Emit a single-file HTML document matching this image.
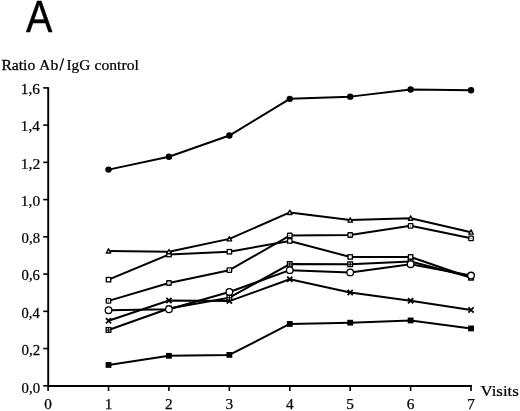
<!DOCTYPE html>
<html><head><meta charset="utf-8"><style>
html,body{margin:0;padding:0;background:#fff;}
body{width:520px;height:411px;overflow:hidden;position:relative;}
svg{position:absolute;left:0;top:0;filter:grayscale(1);}
.n{font-family:"Liberation Serif",serif;font-size:15.2px;fill:#000;stroke:#000;stroke-width:0.25px;}
.ser{font-family:"Liberation Serif",serif;fill:#000;stroke:#000;stroke-width:0.25px;}
.sans{font-family:"Liberation Sans",sans-serif;fill:#000;stroke:#000;stroke-width:0.4px;}
</style></head><body>
<svg width="520" height="411" viewBox="0 0 520 411">
<text class="sans" style="font-size:44.6px" transform="translate(26.10 31.60) scale(0.8867 1)">A</text>
<text class="ser" style="font-size:14.9px" transform="translate(1.43 69.80) scale(1.0483 1)">Ratio</text>
<text class="ser" style="font-size:14.9px" transform="translate(39.04 69.80) scale(1.0567 1)">Ab</text>
<path d="M63.6 58.4L59.8 70.6" stroke="#000" stroke-width="1.25"/>
<text class="ser" style="font-size:14.9px" transform="translate(66.46 69.80) scale(1.0270 1)">IgG</text>
<text class="ser" style="font-size:14.9px" transform="translate(94.58 69.80) scale(1.0472 1)">control</text>
<text class="ser" style="font-size:14.8px" transform="translate(480.53 396.20) scale(1.1393 1)">Visits</text>
<path d="M48.2 87.2V386.95M47.25 386.0H471.94" stroke="#000" stroke-width="1.9" fill="none"/>
<path d="M43.2 385.80H48.2" stroke="#000" stroke-width="1.6"/>
<text class="n" style="font-size:15.3px" transform="translate(21.61 392.60) scale(0.9664 1)">0,0</text>
<path d="M43.2 348.56H48.2" stroke="#000" stroke-width="1.6"/>
<text class="n" style="font-size:15.3px" transform="translate(21.60 354.86) scale(0.9790 1)">0,2</text>
<path d="M43.2 311.32H48.2" stroke="#000" stroke-width="1.6"/>
<text class="n" style="font-size:15.3px" transform="translate(21.62 317.62) scale(0.9462 1)">0,4</text>
<path d="M43.2 274.08H48.2" stroke="#000" stroke-width="1.6"/>
<text class="n" style="font-size:15.3px" transform="translate(21.61 280.38) scale(0.9582 1)">0,6</text>
<path d="M43.2 236.84H48.2" stroke="#000" stroke-width="1.6"/>
<text class="n" style="font-size:15.3px" transform="translate(21.61 243.14) scale(0.9664 1)">0,8</text>
<path d="M43.2 199.60H48.2" stroke="#000" stroke-width="1.6"/>
<text class="n" style="font-size:15.3px" transform="translate(20.81 205.90) scale(1.0096 1)">1,0</text>
<path d="M43.2 162.36H48.2" stroke="#000" stroke-width="1.6"/>
<text class="n" style="font-size:15.3px" transform="translate(20.79 168.66) scale(1.0233 1)">1,2</text>
<path d="M43.2 125.12H48.2" stroke="#000" stroke-width="1.6"/>
<text class="n" style="font-size:15.3px" transform="translate(20.84 131.42) scale(0.9875 1)">1,4</text>
<path d="M43.2 87.88H48.2" stroke="#000" stroke-width="1.6"/>
<text class="n" style="font-size:15.3px" transform="translate(20.82 94.18) scale(1.0006 1)">1,6</text>
<path d="M48.10 386V391" stroke="#000" stroke-width="1.6"/>
<text x="48.10" y="408.7" text-anchor="middle" class="n" style="font-size:15.3px">0</text>
<path d="M108.52 386V391" stroke="#000" stroke-width="1.6"/>
<text x="108.52" y="408.7" text-anchor="middle" class="n" style="font-size:15.3px">1</text>
<path d="M168.94 386V391" stroke="#000" stroke-width="1.6"/>
<text x="168.94" y="408.7" text-anchor="middle" class="n" style="font-size:15.3px">2</text>
<path d="M229.36 386V391" stroke="#000" stroke-width="1.6"/>
<text x="229.36" y="408.7" text-anchor="middle" class="n" style="font-size:15.3px">3</text>
<path d="M289.78 386V391" stroke="#000" stroke-width="1.6"/>
<text x="289.78" y="408.7" text-anchor="middle" class="n" style="font-size:15.3px">4</text>
<path d="M350.20 386V391" stroke="#000" stroke-width="1.6"/>
<text x="350.20" y="408.7" text-anchor="middle" class="n" style="font-size:15.3px">5</text>
<path d="M410.62 386V391" stroke="#000" stroke-width="1.6"/>
<text x="410.62" y="408.7" text-anchor="middle" class="n" style="font-size:15.3px">6</text>
<path d="M471.04 386V391" stroke="#000" stroke-width="1.6"/>
<text x="471.04" y="408.7" text-anchor="middle" class="n" style="font-size:15.3px">7</text>
<polyline points="108.52,364.95 168.94,355.82 229.36,354.89 289.78,323.98 350.20,322.68 410.62,320.44 471.04,328.45" fill="none" stroke="#000" stroke-width="2.0" stroke-linejoin="round"/>
<polyline points="108.52,320.82 168.94,300.52 229.36,301.08 289.78,279.29 350.20,292.51 410.62,300.71 471.04,310.02" fill="none" stroke="#000" stroke-width="2.0" stroke-linejoin="round"/>
<polyline points="108.52,329.94 168.94,308.53 229.36,297.73 289.78,264.03 350.20,264.21 410.62,261.42 471.04,277.25" fill="none" stroke="#000" stroke-width="2.0" stroke-linejoin="round"/>
<polyline points="108.52,310.20 168.94,309.27 229.36,291.96 289.78,270.17 350.20,272.40 410.62,264.21 471.04,275.57" fill="none" stroke="#000" stroke-width="2.0" stroke-linejoin="round"/>
<polyline points="108.52,279.67 168.94,254.53 229.36,251.74 289.78,240.94 350.20,256.95 410.62,256.95 471.04,277.80" fill="none" stroke="#000" stroke-width="2.0" stroke-linejoin="round"/>
<polyline points="108.52,300.89 168.94,283.02 229.36,270.17 289.78,235.54 350.20,234.98 410.62,225.85 471.04,238.33" fill="none" stroke="#000" stroke-width="2.0" stroke-linejoin="round"/>
<polyline points="108.52,250.99 168.94,251.74 229.36,238.89 289.78,212.45 350.20,220.08 410.62,218.22 471.04,232.19" fill="none" stroke="#000" stroke-width="2.0" stroke-linejoin="round"/>
<polyline points="108.52,169.62 168.94,156.77 229.36,135.55 289.78,98.87 350.20,96.63 410.62,89.56 471.04,90.30" fill="none" stroke="#000" stroke-width="2.0" stroke-linejoin="round"/>
<rect x="105.62" y="362.05" width="5.8" height="5.8" fill="#000"/>
<rect x="166.04" y="352.92" width="5.8" height="5.8" fill="#000"/>
<rect x="226.46" y="351.99" width="5.8" height="5.8" fill="#000"/>
<rect x="286.88" y="321.08" width="5.8" height="5.8" fill="#000"/>
<rect x="347.30" y="319.78" width="5.8" height="5.8" fill="#000"/>
<rect x="407.72" y="317.54" width="5.8" height="5.8" fill="#000"/>
<rect x="468.14" y="325.55" width="5.8" height="5.8" fill="#000"/>
<path d="M105.92 318.22L111.12 323.42M111.12 318.22L105.92 323.42" stroke="#000" stroke-width="1.75"/>
<path d="M166.34 297.92L171.54 303.12M171.54 297.92L166.34 303.12" stroke="#000" stroke-width="1.75"/>
<path d="M226.76 298.48L231.96 303.68M231.96 298.48L226.76 303.68" stroke="#000" stroke-width="1.75"/>
<path d="M287.18 276.69L292.38 281.89M292.38 276.69L287.18 281.89" stroke="#000" stroke-width="1.75"/>
<path d="M347.60 289.91L352.80 295.11M352.80 289.91L347.60 295.11" stroke="#000" stroke-width="1.75"/>
<path d="M408.02 298.11L413.22 303.31M413.22 298.11L408.02 303.31" stroke="#000" stroke-width="1.75"/>
<path d="M468.44 307.42L473.64 312.62M473.64 307.42L468.44 312.62" stroke="#000" stroke-width="1.75"/>
<rect x="106.17" y="327.59" width="4.7" height="4.7" fill="#fff" stroke="#000" stroke-width="1.3"/><path d="M108.52 327.64V332.24M106.22 329.94H110.82" stroke="#000" stroke-width="1.1"/>
<rect x="166.59" y="306.18" width="4.7" height="4.7" fill="#fff" stroke="#000" stroke-width="1.3"/><path d="M168.94 306.23V310.83M166.64 308.53H171.24" stroke="#000" stroke-width="1.1"/>
<rect x="227.01" y="295.38" width="4.7" height="4.7" fill="#fff" stroke="#000" stroke-width="1.3"/><path d="M229.36 295.43V300.03M227.06 297.73H231.66" stroke="#000" stroke-width="1.1"/>
<rect x="287.43" y="261.68" width="4.7" height="4.7" fill="#fff" stroke="#000" stroke-width="1.3"/><path d="M289.78 261.73V266.33M287.48 264.03H292.08" stroke="#000" stroke-width="1.1"/>
<rect x="347.85" y="261.86" width="4.7" height="4.7" fill="#fff" stroke="#000" stroke-width="1.3"/><path d="M350.20 261.91V266.51M347.90 264.21H352.50" stroke="#000" stroke-width="1.1"/>
<rect x="408.27" y="259.07" width="4.7" height="4.7" fill="#fff" stroke="#000" stroke-width="1.3"/><path d="M410.62 259.12V263.72M408.32 261.42H412.92" stroke="#000" stroke-width="1.1"/>
<rect x="468.69" y="274.90" width="4.7" height="4.7" fill="#fff" stroke="#000" stroke-width="1.3"/><path d="M471.04 274.95V279.55M468.74 277.25H473.34" stroke="#000" stroke-width="1.1"/>
<rect x="106.32" y="277.47" width="4.4" height="4.4" fill="#fff" stroke="#000" stroke-width="1.3"/>
<rect x="166.74" y="252.33" width="4.4" height="4.4" fill="#fff" stroke="#000" stroke-width="1.3"/>
<rect x="227.16" y="249.54" width="4.4" height="4.4" fill="#fff" stroke="#000" stroke-width="1.3"/>
<rect x="287.58" y="238.74" width="4.4" height="4.4" fill="#fff" stroke="#000" stroke-width="1.3"/>
<rect x="348.00" y="254.75" width="4.4" height="4.4" fill="#fff" stroke="#000" stroke-width="1.3"/>
<rect x="408.42" y="254.75" width="4.4" height="4.4" fill="#fff" stroke="#000" stroke-width="1.3"/>
<rect x="468.84" y="275.60" width="4.4" height="4.4" fill="#fff" stroke="#000" stroke-width="1.3"/>
<rect x="106.27" y="298.64" width="4.5" height="4.5" rx="0.6" fill="#fff" stroke="#000" stroke-width="1.35"/><circle cx="108.52" cy="300.89" r="0.55" fill="#333"/>
<rect x="166.69" y="280.77" width="4.5" height="4.5" rx="0.6" fill="#fff" stroke="#000" stroke-width="1.35"/><circle cx="168.94" cy="283.02" r="0.55" fill="#333"/>
<rect x="227.11" y="267.92" width="4.5" height="4.5" rx="0.6" fill="#fff" stroke="#000" stroke-width="1.35"/><circle cx="229.36" cy="270.17" r="0.55" fill="#333"/>
<rect x="287.53" y="233.29" width="4.5" height="4.5" rx="0.6" fill="#fff" stroke="#000" stroke-width="1.35"/><circle cx="289.78" cy="235.54" r="0.55" fill="#333"/>
<rect x="347.95" y="232.73" width="4.5" height="4.5" rx="0.6" fill="#fff" stroke="#000" stroke-width="1.35"/><circle cx="350.20" cy="234.98" r="0.55" fill="#333"/>
<rect x="408.37" y="223.60" width="4.5" height="4.5" rx="0.6" fill="#fff" stroke="#000" stroke-width="1.35"/><circle cx="410.62" cy="225.85" r="0.55" fill="#333"/>
<rect x="468.79" y="236.08" width="4.5" height="4.5" rx="0.6" fill="#fff" stroke="#000" stroke-width="1.35"/><circle cx="471.04" cy="238.33" r="0.55" fill="#333"/>
<path d="M108.52 248.69L110.77 252.99H106.27Z" fill="#fff" stroke="#000" stroke-width="1.35" stroke-linejoin="round"/>
<path d="M168.94 249.44L171.19 253.74H166.69Z" fill="#fff" stroke="#000" stroke-width="1.35" stroke-linejoin="round"/>
<path d="M229.36 236.59L231.61 240.89H227.11Z" fill="#fff" stroke="#000" stroke-width="1.35" stroke-linejoin="round"/>
<path d="M289.78 210.15L292.03 214.45H287.53Z" fill="#fff" stroke="#000" stroke-width="1.35" stroke-linejoin="round"/>
<path d="M350.20 217.78L352.45 222.08H347.95Z" fill="#fff" stroke="#000" stroke-width="1.35" stroke-linejoin="round"/>
<path d="M410.62 215.92L412.87 220.22H408.37Z" fill="#fff" stroke="#000" stroke-width="1.35" stroke-linejoin="round"/>
<path d="M471.04 229.89L473.29 234.19H468.79Z" fill="#fff" stroke="#000" stroke-width="1.35" stroke-linejoin="round"/>
<circle cx="108.52" cy="310.20" r="3.3" fill="#fff" stroke="#000" stroke-width="1.3"/>
<circle cx="168.94" cy="309.27" r="3.3" fill="#fff" stroke="#000" stroke-width="1.3"/>
<circle cx="229.36" cy="291.96" r="3.3" fill="#fff" stroke="#000" stroke-width="1.3"/>
<circle cx="289.78" cy="270.17" r="3.3" fill="#fff" stroke="#000" stroke-width="1.3"/>
<circle cx="350.20" cy="272.40" r="3.3" fill="#fff" stroke="#000" stroke-width="1.3"/>
<circle cx="410.62" cy="264.21" r="3.3" fill="#fff" stroke="#000" stroke-width="1.3"/>
<circle cx="471.04" cy="275.57" r="3.3" fill="#fff" stroke="#000" stroke-width="1.3"/>
<circle cx="108.52" cy="169.62" r="3.2" fill="#000"/>
<circle cx="168.94" cy="156.77" r="3.2" fill="#000"/>
<circle cx="229.36" cy="135.55" r="3.2" fill="#000"/>
<circle cx="289.78" cy="98.87" r="3.2" fill="#000"/>
<circle cx="350.20" cy="96.63" r="3.2" fill="#000"/>
<circle cx="410.62" cy="89.56" r="3.2" fill="#000"/>
<circle cx="471.04" cy="90.30" r="3.2" fill="#000"/>
</svg>
</body></html>
